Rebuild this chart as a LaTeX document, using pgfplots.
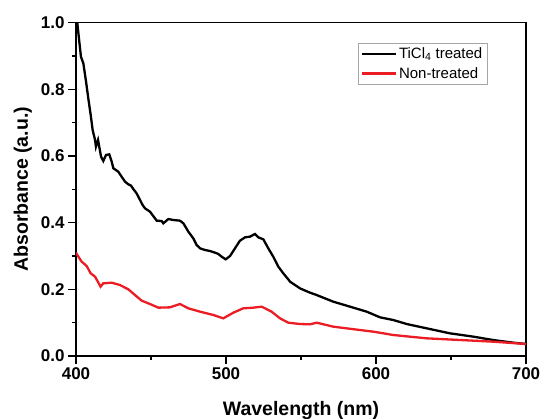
\documentclass[border=0pt]{standalone}
\usepackage{pgfplots}
\pgfplotsset{compat=1.18}
\usepackage{fontspec}
\setmainfont{Liberation Sans}
\definecolor{myred}{RGB}{236,28,36}
\begin{document}
\begin{tikzpicture}
\path[use as bounding box] (-76pt,-62pt) rectangle (465pt,356pt);
\begin{axis}[
  width=450pt, height=333.33pt, scale only axis,
  xmin=400, xmax=700, ymin=0, ymax=1,
  xtick={400,500,600,700}, minor x tick num=1,
  ytick={0,0.2,0.4,0.6,0.8,1.0}, minor y tick num=1,
  tick align=outside, tick pos=left,
  major tick length=8pt, minor tick length=4pt,
  every tick/.style={black, line width=1.3pt},
  axis line style={line width=1.5pt},
  /pgf/number format/assume math mode=true,
  yticklabel style={/pgf/number format/fixed, /pgf/number format/fixed zerofill, /pgf/number format/precision=1},
  ticklabel style={font=\bfseries\fontsize{17}{17}\selectfont},
  xlabel={Wavelength (nm)}, ylabel={Absorbance (a.u.)},
  label style={font=\bfseries\fontsize{19.5}{19.5}\selectfont},
  xlabel style={at={(rel axis cs:0.5,0)}, anchor=base, yshift=-59pt},
  ylabel style={at={(rel axis cs:0,0.5)}, anchor=base, yshift=48pt},
  legend style={at={(rel axis cs:0.6267,0.94)}, anchor=north west, draw=gray!70, line width=0.6pt,
    font=\fontsize{15}{15}\selectfont, inner sep=2.5pt, row sep=3.5pt},
  legend cell align=left,
  legend image code/.code={\draw[#1, line width=2.2pt] (0pt,0pt) -- (34pt,0pt);},
]
\addplot[black, line width=2.3pt] table {
400.0 1.02
400.9 0.998
402.2 0.943
403.3 0.898
404.9 0.878
406.7 0.823
408.2 0.773
409.8 0.723
411.1 0.678
412.7 0.648
413.3 0.628
414.7 0.648
415.5 0.628
416.7 0.598
418.2 0.585
420.0 0.603
422.2 0.605
423.8 0.583
424.9 0.563
428.2 0.553
430.4 0.538
432.7 0.523
434.9 0.515
436.7 0.511
438.2 0.501
440.4 0.488
442.7 0.468
444.4 0.453
446.0 0.443
449.3 0.433
453.8 0.406
457.1 0.405
458.2 0.398
461.6 0.411
464.9 0.408
469.3 0.406
471.6 0.398
474.9 0.373
478.2 0.353
480.4 0.333
482.7 0.323
486.0 0.318
489.3 0.315
492.7 0.310
494.9 0.306
497.1 0.298
499.8 0.290
502.7 0.300
506.0 0.323
509.3 0.346
512.7 0.356
516.0 0.358
519.3 0.366
521.5 0.356
524.9 0.350
528.2 0.323
531.5 0.298
534.9 0.268
538.2 0.248
541.5 0.230
542.7 0.223
549.3 0.203
556.0 0.190
560.4 0.183
571.5 0.163
582.7 0.148
593.8 0.133
602.7 0.116
611.5 0.108
620.4 0.096
633.8 0.083
649.3 0.068
665.0 0.058
678.0 0.048
691.5 0.040
700.0 0.036
};
\addlegendentry{TiCl\textsubscript{4} treated}
\addplot[myred, line width=2.3pt] table {
400.0 0.310
401.6 0.298
403.8 0.283
407.1 0.270
409.8 0.248
412.7 0.238
416.4 0.208
418.2 0.218
423.8 0.220
429.3 0.213
434.9 0.200
439.3 0.183
443.8 0.166
449.3 0.156
454.9 0.145
462.7 0.146
469.3 0.156
474.9 0.143
482.7 0.133
491.6 0.123
498.2 0.113
504.9 0.130
511.5 0.143
518.2 0.145
523.8 0.148
530.4 0.133
536.0 0.113
541.5 0.100
549.3 0.096
556.0 0.095
560.4 0.100
571.5 0.088
589.3 0.078
598.2 0.073
611.5 0.063
633.8 0.053
656.0 0.048
678.0 0.043
700.0 0.036
};
\addlegendentry{Non-treated}
\end{axis}
\end{tikzpicture}
\end{document}
